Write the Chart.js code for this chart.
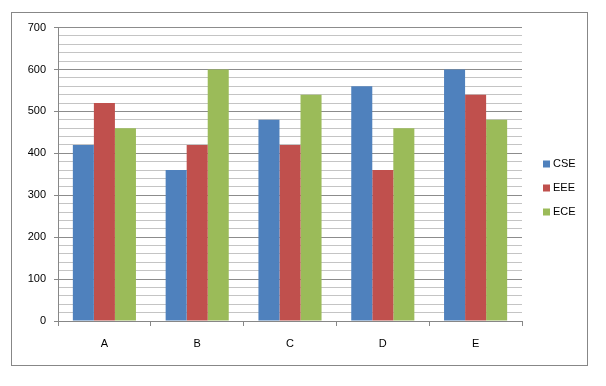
<!DOCTYPE html>
<html>
<head>
<meta charset="utf-8">
<script src="https://cdn.jsdelivr.net/npm/chart.js@4"></script>
<style>
  html, body { margin: 0; padding: 0; background: #fff; }
  #frame {
    position: absolute; left: 11px; top: 12px;
    width: 575px; height: 352px;
    border: 1px solid #878787;
  }
  canvas { display: block; }
</style>
</head>
<body>
<div id="frame"><canvas id="chart" width="575" height="352"></canvas></div>
<script>
const categories = ["A", "B", "C", "D", "E"];
const seriesNames = ["CSE", "EEE", "ECE"];
const cse = [420, 360, 480, 560, 600];
const eee = [520, 420, 420, 360, 540];
const ece = [460, 600, 540, 460, 480];
const colors = ["#4F81BD", "#C0504D", "#9BBB59"];
const yMax = 700;

const font = { family: "'Liberation Sans', Arial, sans-serif", size: 11 };

// legend drawn by hand so it sits where the original puts it
const sideLegend = {
  id: "sideLegend",
  afterDraw(chart) {
    const ctx = chart.ctx;
    ctx.save();
    ctx.font = font.size + "px " + font.family;
    ctx.textBaseline = "middle";
    chart.data.datasets.forEach((ds, i) => {
      const y = 151 + i * 24;
      ctx.fillStyle = ds.backgroundColor;
      ctx.fillRect(531, y - 3.5, 7, 7);
      ctx.fillStyle = "#000";
      ctx.fillText(ds.label, 541, y);
    });
    ctx.restore();
  }
};

new Chart(document.getElementById("chart"), {
  type: "bar",
  data: {
    labels: categories,
    datasets: [cse, eee, ece].map((d, i) => ({
      label: seriesNames[i],
      data: d,
      backgroundColor: colors[i],
      borderWidth: 0,
      categoryPercentage: 0.68,
      barPercentage: 1
    }))
  },
  options: {
    responsive: false,
    animation: false,
    layout: { padding: { top: 7, right: 65, left: 0, bottom: 0 } },
    plugins: {
      legend: { display: false },
      tooltip: { enabled: false }
    },
    scales: {
      x: {
        grid: {
          drawOnChartArea: false,
          offset: true,
          tickLength: 5,
          color: "#878787"
        },
        border: { color: "#878787" },
        ticks: { color: "#000", font, padding: 11 },
        afterFit(scale) { scale.height = 44; }
      },
      y: {
        min: 0,
        max: yMax,
        grid: {
          color: c => (c.tick && c.tick.value % 100 === 0) ? "#8c8c8c" : "#c4c4c4",
          tickColor: c => (c.tick && c.tick.value % 100 === 0) ? "#878787" : "rgba(0,0,0,0)",
          tickLength: 4
        },
        border: { color: "#878787" },
        ticks: {
          stepSize: 20,
          autoSkip: false,
          color: "#000",
          font,
          padding: 8,
          callback: v => (v % 100 === 0 ? v : "")
        },
        afterFit(scale) { scale.width = 46; }
      }
    }
  },
  plugins: [sideLegend]
});
</script>
</body>
</html>
